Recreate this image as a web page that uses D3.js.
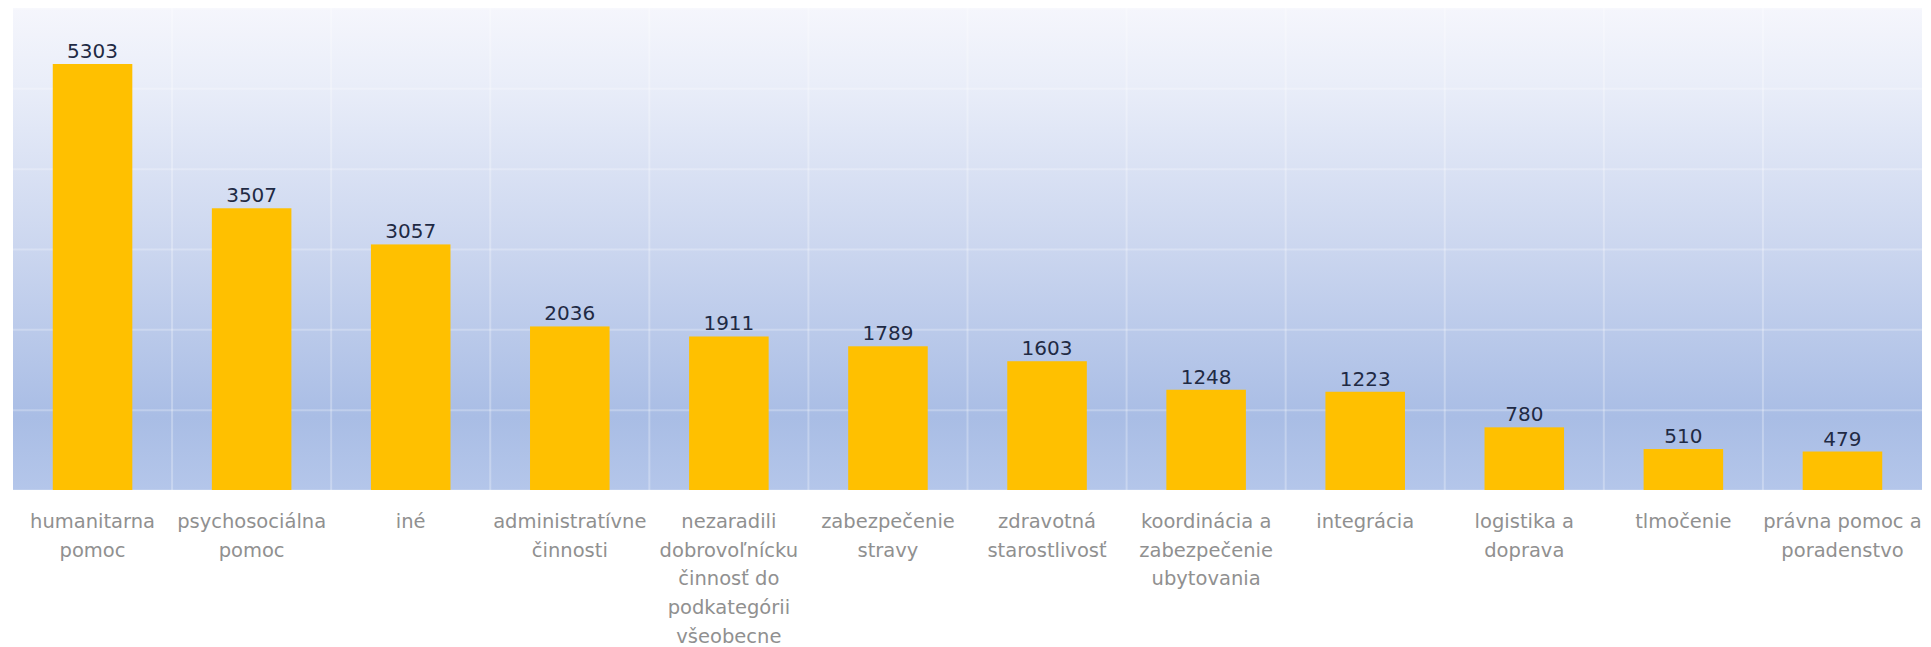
<!DOCTYPE html>
<html>
<head>
<meta charset="utf-8">
<script src="https://cdn.jsdelivr.net/npm/d3@7"></script>
<style>
  html, body { margin: 0; padding: 0; background: #ffffff; }
  svg { display: block; }
</style>
</head>
<body>
<svg id="chart" width="1931" height="647"></svg>
<script>
// ---- data ----
const categories = [
  "humanitarna pomoc",
  "psychosociálna pomoc",
  "iné",
  "administratívne činnosti",
  "nezaradili dobrovoľnícku činnosť do podkategórii všeobecne",
  "zabezpečenie stravy",
  "zdravotná starostlivosť",
  "koordinácia  a zabezpečenie ubytovania",
  "integrácia",
  "logistika a doprava",
  "tlmočenie",
  "právna pomoc a poradenstvo"
];
const labelLines = [
  ["humanitarna", "pomoc"],
  ["psychosociálna", "pomoc"],
  ["iné"],
  ["administratívne", "činnosti"],
  ["nezaradili", "dobrovoľnícku", "činnosť do", "podkategórii", "všeobecne"],
  ["zabezpečenie", "stravy"],
  ["zdravotná", "starostlivosť"],
  ["koordinácia  a", "zabezpečenie", "ubytovania"],
  ["integrácia"],
  ["logistika a", "doprava"],
  ["tlmočenie"],
  ["právna pomoc a", "poradenstvo"]
];
const values = [5303, 3507, 3057, 2036, 1911, 1789, 1603, 1248, 1223, 780, 510, 479];
const yTicks = [0, 1000, 2000, 3000, 4000, 5000, 6000];

// ---- layout ----
const svg = d3.select("#chart");
const plot = { left: 13, right: 1922, top: 8, bottom: 490 };

const xBand = d3.scaleBand()
  .domain(categories)
  .range([plot.left, plot.right]);
const y = d3.scaleLinear()
  .domain([0, 6000])
  .range([plot.bottom, plot.top]);

// background gradient
const defs = svg.append("defs");
const grad = defs.append("linearGradient")
  .attr("id", "bg").attr("x1", 0).attr("y1", 0).attr("x2", 0).attr("y2", 1);
[[0, "#f5f6fc"], [0.15, "#eaeef9"], [0.5, "#cbd6ef"], [0.85, "#a9bde5"], [1, "#b4c6ea"]]
  .forEach(([o, c]) => grad.append("stop").attr("offset", o).attr("stop-color", c));

svg.append("rect")
  .attr("x", plot.left).attr("y", plot.top)
  .attr("width", plot.right - plot.left)
  .attr("height", plot.bottom - plot.top)
  .attr("fill", "url(#bg)");

// horizontal gridlines
const yAxis = d3.axisLeft(y).tickValues(yTicks).tickSize(-(plot.right - plot.left)).tickFormat("");
svg.append("g")
  .attr("transform", `translate(${plot.left},0)`)
  .call(yAxis)
  .call(g => g.select(".domain").remove())
  .call(g => g.selectAll(".tick line")
    .attr("stroke", "#ffffff").attr("stroke-opacity", 0.25).attr("stroke-width", 2));

// vertical gridlines at band boundaries
svg.append("g")
  .selectAll("line")
  .data(categories.slice(1))
  .join("line")
  .attr("x1", d => xBand(d)).attr("x2", d => xBand(d))
  .attr("y1", plot.top).attr("y2", plot.bottom)
  .attr("stroke", "#ffffff").attr("stroke-opacity", 0.28).attr("stroke-width", 2);

// bars
svg.append("g")
  .selectAll("rect")
  .data(values)
  .join("rect")
  .attr("x", (d, i) => xBand(categories[i]) + xBand.bandwidth() * 0.25)
  .attr("width", xBand.bandwidth() * 0.5)
  .attr("y", d => y(d))
  .attr("height", d => y(0) - y(d))
  .attr("fill", "#ffc000");

// value labels
svg.append("g")
  .selectAll("text")
  .data(values)
  .join("text")
  .attr("x", (d, i) => xBand(categories[i]) + xBand.bandwidth() / 2)
  .attr("y", d => y(d) - 6)
  .attr("text-anchor", "middle")
  .attr("font-family", "DejaVu Sans, sans-serif")
  .attr("font-size", 20)
  .attr("fill", "#1f2a44")
  .text(d => d);

// category labels
const xAxis = d3.axisBottom(xBand).tickSize(0).tickFormat("");
const ax = svg.append("g")
  .attr("transform", `translate(0,${plot.bottom})`)
  .call(xAxis);
ax.select(".domain").remove();
ax.selectAll(".tick").each(function(d, i) {
  const t = d3.select(this).append("text")
    .attr("text-anchor", "middle")
    .attr("font-family", "DejaVu Sans, sans-serif")
    .attr("font-size", 19.5)
    .attr("fill", "#909090");
  labelLines[i].forEach((line, j) => {
    t.append("tspan").attr("x", 0).attr("y", 38 + j * 28.7).text(line);
  });
});
</script>
</body>
</html>
